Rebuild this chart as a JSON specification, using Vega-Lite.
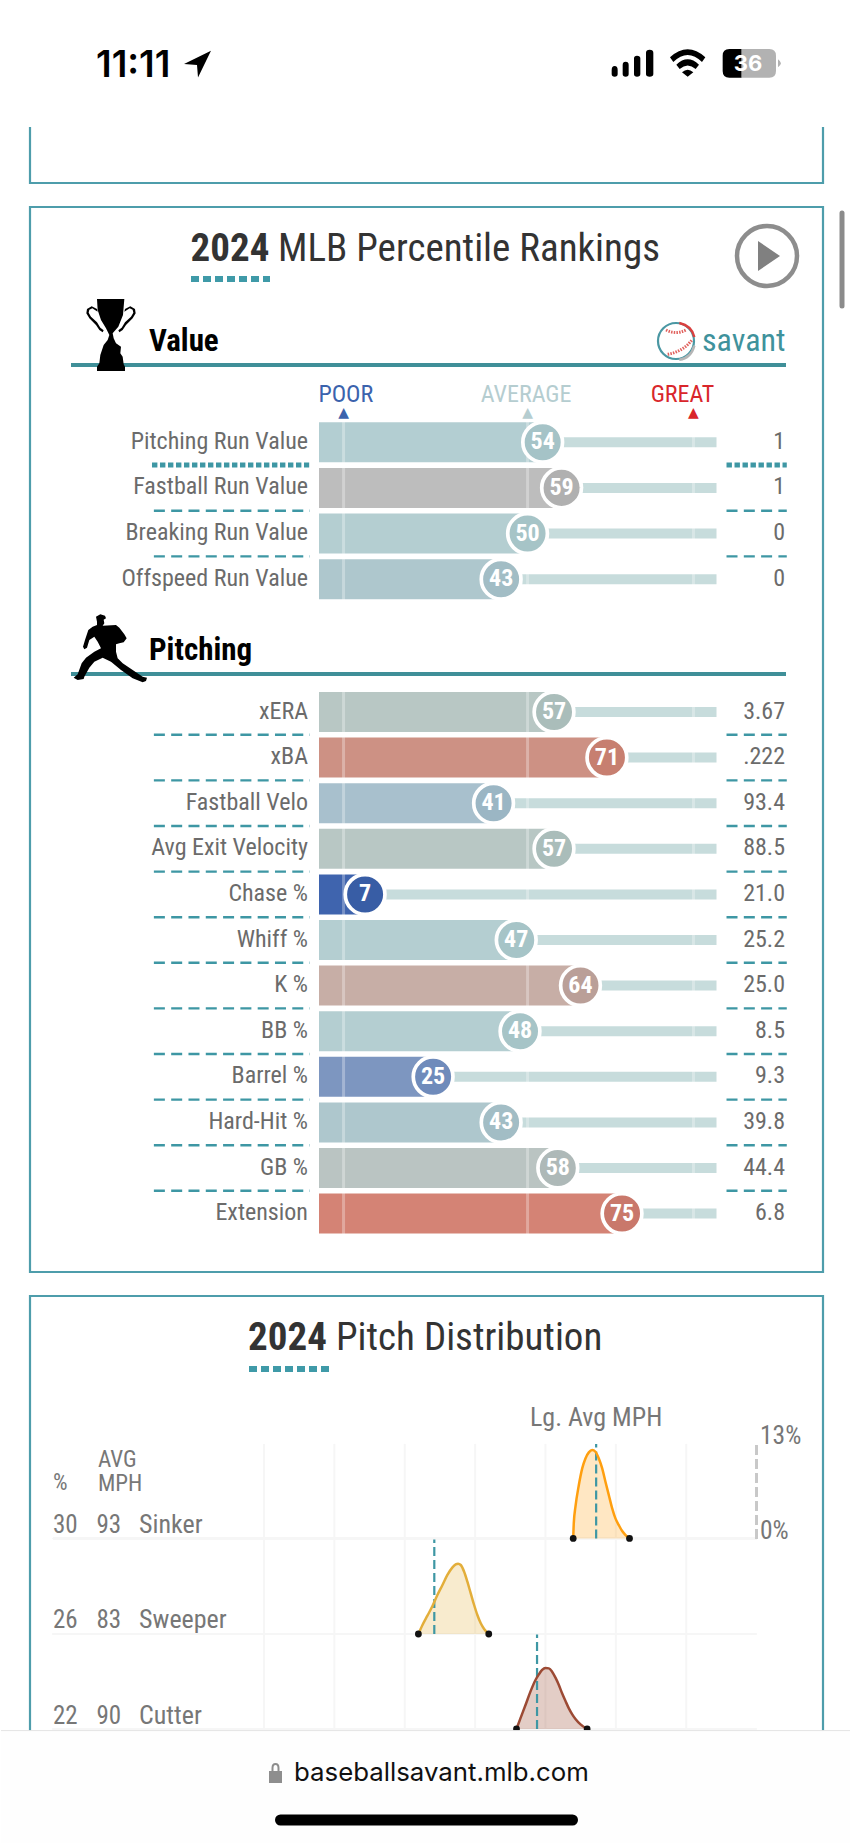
{
"$schema":"https://vega.github.io/schema/vega-lite/v6.json",
"width":850,"height":1843,"padding":0,
"autosize":{"type":"fit","contains":"padding"},
"background":"white",
"config":{"view":{"stroke":null},"axis":{"disable":true},"legend":{"disable":true},"text":{"font":"Roboto Condensed, Roboto"}},
"datasets":{
"rankings":[
{"group":"Value","metric":"Pitching Run Value","pct":54,"value":"1"},
{"group":"Value","metric":"Fastball Run Value","pct":59,"value":"1"},
{"group":"Value","metric":"Breaking Run Value","pct":50,"value":"0"},
{"group":"Value","metric":"Offspeed Run Value","pct":43,"value":"0"},
{"group":"Pitching","metric":"xERA","pct":57,"value":"3.67"},
{"group":"Pitching","metric":"xBA","pct":71,"value":".222"},
{"group":"Pitching","metric":"Fastball Velo","pct":41,"value":"93.4"},
{"group":"Pitching","metric":"Avg Exit Velocity","pct":57,"value":"88.5"},
{"group":"Pitching","metric":"Chase %","pct":7,"value":"21.0"},
{"group":"Pitching","metric":"Whiff %","pct":47,"value":"25.2"},
{"group":"Pitching","metric":"K %","pct":64,"value":"25.0"},
{"group":"Pitching","metric":"BB %","pct":48,"value":"8.5"},
{"group":"Pitching","metric":"Barrel %","pct":25,"value":"9.3"},
{"group":"Pitching","metric":"Hard-Hit %","pct":43,"value":"39.8"},
{"group":"Pitching","metric":"GB %","pct":58,"value":"44.4"},
{"group":"Pitching","metric":"Extension","pct":75,"value":"6.8"}],
"markers":[{"label":"POOR","p":1.3,"labelAt":1.9},{"label":"AVERAGE","p":50,"labelAt":49.6},{"label":"GREAT","p":93.9,"labelAt":91}],
"pitches":[{"pitch":"Sinker","share":"30","mph":"93","lgAvg":93.6},{"pitch":"Sweeper","share":"26","mph":"83","lgAvg":82.1},{"pitch":"Cutter","share":"22","mph":"90","lgAvg":89.4}],
"grid":[{"mph":70},{"mph":75},{"mph":80},{"mph":85},{"mph":90},{"mph":95},{"mph":100}],
"density":[
{"pitch":"Sinker","mph":91.97,"d":0},{"pitch":"Sinker","mph":92.01,"d":2.06},{"pitch":"Sinker","mph":92.13,"d":4.36},{"pitch":"Sinker","mph":92.37,"d":7.34},{"pitch":"Sinker","mph":92.61,"d":9.63},{"pitch":"Sinker","mph":92.84,"d":11.0},{"pitch":"Sinker","mph":93.08,"d":11.83},{"pitch":"Sinker","mph":93.32,"d":12.15},{"pitch":"Sinker","mph":93.55,"d":11.92},{"pitch":"Sinker","mph":93.79,"d":11.0},{"pitch":"Sinker","mph":94.03,"d":9.63},{"pitch":"Sinker","mph":94.26,"d":7.79},{"pitch":"Sinker","mph":94.5,"d":5.96},{"pitch":"Sinker","mph":94.74,"d":4.13},{"pitch":"Sinker","mph":94.97,"d":2.75},{"pitch":"Sinker","mph":95.21,"d":1.83},{"pitch":"Sinker","mph":95.45,"d":1.01},{"pitch":"Sinker","mph":95.69,"d":0.46},{"pitch":"Sinker","mph":95.97,"d":0},
{"pitch":"Sweeper","mph":80.97,"d":0},{"pitch":"Sweeper","mph":81.26,"d":1.24},{"pitch":"Sweeper","mph":81.61,"d":2.52},{"pitch":"Sweeper","mph":81.97,"d":3.85},{"pitch":"Sweeper","mph":82.32,"d":5.36},{"pitch":"Sweeper","mph":82.68,"d":6.74},{"pitch":"Sweeper","mph":83.03,"d":8.12},{"pitch":"Sweeper","mph":83.39,"d":9.17},{"pitch":"Sweeper","mph":83.62,"d":9.58},{"pitch":"Sweeper","mph":83.79,"d":9.67},{"pitch":"Sweeper","mph":83.98,"d":9.49},{"pitch":"Sweeper","mph":84.22,"d":8.57},{"pitch":"Sweeper","mph":84.45,"d":7.2},{"pitch":"Sweeper","mph":84.69,"d":5.59},{"pitch":"Sweeper","mph":84.93,"d":3.99},{"pitch":"Sweeper","mph":85.16,"d":2.61},{"pitch":"Sweeper","mph":85.4,"d":1.47},{"pitch":"Sweeper","mph":85.64,"d":0.69},{"pitch":"Sweeper","mph":85.97,"d":0},
{"pitch":"Cutter","mph":87.94,"d":0},{"pitch":"Cutter","mph":88.22,"d":1.47},{"pitch":"Cutter","mph":88.58,"d":3.3},{"pitch":"Cutter","mph":88.93,"d":5.14},{"pitch":"Cutter","mph":89.29,"d":6.74},{"pitch":"Cutter","mph":89.53,"d":7.52},{"pitch":"Cutter","mph":89.76,"d":8.12},{"pitch":"Cutter","mph":90.0,"d":8.39},{"pitch":"Cutter","mph":90.24,"d":8.34},{"pitch":"Cutter","mph":90.47,"d":7.89},{"pitch":"Cutter","mph":90.71,"d":7.06},{"pitch":"Cutter","mph":90.95,"d":6.05},{"pitch":"Cutter","mph":91.18,"d":4.91},{"pitch":"Cutter","mph":91.42,"d":3.85},{"pitch":"Cutter","mph":91.66,"d":2.84},{"pitch":"Cutter","mph":91.9,"d":2.02},{"pitch":"Cutter","mph":92.13,"d":1.38},{"pitch":"Cutter","mph":92.49,"d":0.64},{"pitch":"Cutter","mph":92.96,"d":0}]
},
"resolve":{"scale":{"x":"independent","y":"independent","color":"independent","fill":"independent"}},
"layer":[
{"data":{"name":"rankings"},"transform":[{"filter":"datum.group=='Value'"}],
 "encoding":{"y":{"field":"metric","type":"nominal","scale":{"type":"band","domain":["legend","Pitching Run Value","Fastball Run Value","Breaking Run Value","Offspeed Run Value"],"range":[373.7,602.05],"paddingInner":0,"paddingOuter":0}}},
 "layer":[
 {"mark":{"type":"bar","size":10,"color":"#c7dcdc"},"encoding":{"x":{"field":"pct","type":"quantitative","scale":{"domain":[-5.2,100],"range":[318,715.5],"nice":false,"zero":false}},"x2":{"datum":100}}},
 {"mark":{"type":"bar","size":40},"encoding":{"x":{"field":"pct","type":"quantitative"},"x2":{"datum":-5.2},"color":{"field":"pct","type":"quantitative","scale":{"type":"linear","domain":[7,25,41,43,47,54,57,58,59,64,71,75],"range":["#3f64ae","#7d96c0","#a8c0cd","#aec7cd","#b4ced1","#b3ced2","#b8c7c4","#bac4c2","#bdbdbd","#c7aea6","#cd9184","#d48375"]}}}},
 {"mark":{"type":"tick","color":"white","opacity":0.3,"thickness":3,"size":45.6},"encoding":{"x":{"datum":1.3}}},
 {"mark":{"type":"tick","color":"white","opacity":0.3,"thickness":3,"size":45.6},"encoding":{"x":{"datum":50}}},
 {"mark":{"type":"tick","color":"white","opacity":0.3,"thickness":3,"size":45.6},"encoding":{"x":{"datum":93.9}}},
 {"mark":{"type":"point","shape":"circle","filled":true,"opacity":1,"size":1576,"stroke":"white","strokeWidth":3.7},"encoding":{"x":{"field":"pct","type":"quantitative"},"fill":{"field":"pct","type":"quantitative","scale":{"type":"linear","domain":[7,25,41,43,47,54,57,58,59,64,71,75],"range":["#385da5","#6f8bbb","#9bb6c4","#a2bdc5","#a6c4c7","#a5c3c7","#aabdba","#aeb9b8","#b0b0b0","#ba9f98","#c77f70","#c9786b"]}}}},
 {"mark":{"type":"text","color":"white","fontWeight":"bold","fontSize":24},"encoding":{"x":{"field":"pct","type":"quantitative"},"text":{"field":"pct"}}},
 {"mark":{"type":"text","color":"#6b6b6b","fontSize":24,"align":"right","dx":-11,"dy":-0.5},"encoding":{"x":{"datum":-5.2},"text":{"field":"metric"}}},
 {"mark":{"type":"text","color":"#6b6b6b","fontSize":24,"align":"right","dx":68.5,"dy":-0.5},"encoding":{"x":{"datum":100},"text":{"field":"value"}}},
 {"transform":[{"filter":"datum.metric=='Pitching Run Value'"}],"mark":{"type":"rule","color":"#3e97a4","strokeWidth":5,"strokeDash":[5.4,2.6]},"encoding":{"y":{"field":"metric","type":"nominal","bandPosition":1},"x":{"datum":-49.4},"x2":{"datum":-7.8}}},
 {"transform":[{"filter":"datum.metric=='Pitching Run Value'"}],"mark":{"type":"rule","color":"#3e97a4","strokeWidth":5,"strokeDash":[5.4,2.6]},"encoding":{"y":{"field":"metric","type":"nominal","bandPosition":1},"x":{"datum":102.65},"x2":{"datum":118.6}}},
 {"transform":[{"filter":"datum.metric=='Fastball Run Value'||datum.metric=='Breaking Run Value'"}],"mark":{"type":"rule","color":"#3e97a4","strokeWidth":2.4,"strokeDash":[11,6.3]},"encoding":{"y":{"field":"metric","type":"nominal","bandPosition":1},"x":{"datum":-48.9},"x2":{"datum":-7.6}}},
 {"transform":[{"filter":"datum.metric=='Fastball Run Value'||datum.metric=='Breaking Run Value'"}],"mark":{"type":"rule","color":"#3e97a4","strokeWidth":2.4,"strokeDash":[11,6.3]},"encoding":{"y":{"field":"metric","type":"nominal","bandPosition":1},"x":{"datum":102.65},"x2":{"datum":118.6}}},
 {"data":{"name":"markers"},"mark":{"type":"text","fontSize":24,"dy":-2},"encoding":{"y":{"datum":"legend"},"x":{"field":"labelAt","type":"quantitative"},"text":{"field":"label"},"color":{"field":"label","type":"nominal","scale":{"domain":["POOR","AVERAGE","GREAT"],"range":["#3b63ad","#b5cdd0","#d9262b"]}}}},
 {"data":{"name":"markers"},"mark":{"type":"text","font":"DejaVu Sans","fontSize":14,"dy":16.5,"text":"▲"},"encoding":{"y":{"datum":"legend"},"x":{"field":"p","type":"quantitative"},"color":{"field":"label","type":"nominal","scale":{"domain":["POOR","AVERAGE","GREAT"],"range":["#3b63ad","#b5cdd0","#d9262b"]}}}}
 ]},
{"data":{"name":"rankings"},"transform":[{"filter":"datum.group=='Pitching'"}],
 "encoding":{"y":{"field":"metric","type":"nominal","scale":{"type":"band","domain":["xERA","xBA","Fastball Velo","Avg Exit Velocity","Chase %","Whiff %","K %","BB %","Barrel %","Hard-Hit %","GB %","Extension"],"range":[689.2,1236.4],"paddingInner":0,"paddingOuter":0}}},
 "layer":[
 {"mark":{"type":"bar","size":10,"color":"#c7dcdc"},"encoding":{"x":{"field":"pct","type":"quantitative","scale":{"domain":[-5.2,100],"range":[318,715.5],"nice":false,"zero":false}},"x2":{"datum":100}}},
 {"mark":{"type":"bar","size":40},"encoding":{"x":{"field":"pct","type":"quantitative"},"x2":{"datum":-5.2},"color":{"field":"pct","type":"quantitative","scale":{"type":"linear","domain":[7,25,41,43,47,54,57,58,59,64,71,75],"range":["#3f64ae","#7d96c0","#a8c0cd","#aec7cd","#b4ced1","#b3ced2","#b8c7c4","#bac4c2","#bdbdbd","#c7aea6","#cd9184","#d48375"]}}}},
 {"mark":{"type":"tick","color":"white","opacity":0.3,"thickness":3,"size":45.6},"encoding":{"x":{"datum":1.3}}},
 {"mark":{"type":"tick","color":"white","opacity":0.3,"thickness":3,"size":45.6},"encoding":{"x":{"datum":50}}},
 {"mark":{"type":"tick","color":"white","opacity":0.3,"thickness":3,"size":45.6},"encoding":{"x":{"datum":93.9}}},
 {"mark":{"type":"point","shape":"circle","filled":true,"opacity":1,"size":1576,"stroke":"white","strokeWidth":3.7},"encoding":{"x":{"field":"pct","type":"quantitative"},"fill":{"field":"pct","type":"quantitative","scale":{"type":"linear","domain":[7,25,41,43,47,54,57,58,59,64,71,75],"range":["#385da5","#6f8bbb","#9bb6c4","#a2bdc5","#a6c4c7","#a5c3c7","#aabdba","#aeb9b8","#b0b0b0","#ba9f98","#c77f70","#c9786b"]}}}},
 {"mark":{"type":"text","color":"white","fontWeight":"bold","fontSize":24},"encoding":{"x":{"field":"pct","type":"quantitative"},"text":{"field":"pct"}}},
 {"mark":{"type":"text","color":"#6b6b6b","fontSize":24,"align":"right","dx":-11,"dy":-0.5},"encoding":{"x":{"datum":-5.2},"text":{"field":"metric"}}},
 {"mark":{"type":"text","color":"#6b6b6b","fontSize":24,"align":"right","dx":68.5,"dy":-0.5},"encoding":{"x":{"datum":100},"text":{"field":"value"}}},
 {"transform":[{"filter":"datum.metric!='Extension'"}],"mark":{"type":"rule","color":"#3e97a4","strokeWidth":2.4,"strokeDash":[11,6.3]},"encoding":{"y":{"field":"metric","type":"nominal","bandPosition":1},"x":{"datum":-48.9},"x2":{"datum":-7.6}}},
 {"transform":[{"filter":"datum.metric!='Extension'"}],"mark":{"type":"rule","color":"#3e97a4","strokeWidth":2.4,"strokeDash":[11,6.3]},"encoding":{"y":{"field":"metric","type":"nominal","bandPosition":1},"x":{"datum":102.65},"x2":{"datum":118.6}}}
 ]},
{"data":{"name":"density"},"transform":[{"filter":"datum.pitch=='Sinker'"}],
 "layer":[
 {"data":{"name":"grid"},"mark":{"type":"rule","color":"#f6f6f6","strokeWidth":2},"encoding":{"x":{"field":"mph","type":"quantitative","scale":{"domain":[70,105],"range":[263,755.6],"nice":false,"zero":false}},"y":{"datum":0,"scale":{"domain":[0,13],"range":[1538.4,1443.9],"nice":false}},"y2":{"datum":13}}},
 {"mark":{"type":"rule","color":"#f6f6f6","strokeWidth":2},"encoding":{"x":{"datum":55},"x2":{"datum":105},"y":{"datum":0}}},
 {"mark":{"type":"rule","color":"#c8c8c8","strokeWidth":2,"strokeDash":[9,5]},"encoding":{"x":{"datum":105},"y":{"datum":0},"y2":{"datum":13}}},
 {"mark":{"type":"area","color":"#ff9f0f","opacity":0.25,"interpolate":"monotone"},"encoding":{"x":{"field":"mph","type":"quantitative"},"y":{"field":"d","type":"quantitative"}}},
 {"data":{"name":"pitches"},"transform":[{"filter":"datum.pitch=='Sinker'"}],"mark":{"type":"rule","color":"#3e97a4","strokeWidth":2.2,"strokeDash":[9,4]},"encoding":{"x":{"field":"lgAvg","type":"quantitative"},"y":{"datum":0},"y2":{"datum":13}}},
 {"mark":{"type":"line","color":"#ff9f0f","strokeWidth":2.5,"interpolate":"monotone"},"encoding":{"x":{"field":"mph","type":"quantitative"},"y":{"field":"d","type":"quantitative"}}},
 {"transform":[{"filter":"datum.d==0"}],"mark":{"type":"point","shape":"circle","filled":true,"opacity":1,"color":"#111","size":46},"encoding":{"x":{"field":"mph","type":"quantitative"},"y":{"field":"d","type":"quantitative"}}}
 ]},
{"data":{"name":"density"},"transform":[{"filter":"datum.pitch=='Sweeper'"}],
 "layer":[
 {"data":{"name":"grid"},"mark":{"type":"rule","color":"#f6f6f6","strokeWidth":2},"encoding":{"x":{"field":"mph","type":"quantitative","scale":{"domain":[70,105],"range":[263,755.6],"nice":false,"zero":false}},"y":{"datum":0,"scale":{"domain":[0,13],"range":[1634,1539.5],"nice":false}},"y2":{"datum":13}}},
 {"mark":{"type":"rule","color":"#f6f6f6","strokeWidth":2},"encoding":{"x":{"datum":55},"x2":{"datum":105},"y":{"datum":0}}},
 {"mark":{"type":"area","color":"#e3ae3a","opacity":0.25,"interpolate":"monotone"},"encoding":{"x":{"field":"mph","type":"quantitative"},"y":{"field":"d","type":"quantitative"}}},
 {"data":{"name":"pitches"},"transform":[{"filter":"datum.pitch=='Sweeper'"}],"mark":{"type":"rule","color":"#3e97a4","strokeWidth":2.2,"strokeDash":[9,4]},"encoding":{"x":{"field":"lgAvg","type":"quantitative"},"y":{"datum":0},"y2":{"datum":13}}},
 {"mark":{"type":"line","color":"#e3ae3a","strokeWidth":2.5,"interpolate":"monotone"},"encoding":{"x":{"field":"mph","type":"quantitative"},"y":{"field":"d","type":"quantitative"}}},
 {"transform":[{"filter":"datum.d==0"}],"mark":{"type":"point","shape":"circle","filled":true,"opacity":1,"color":"#111","size":46},"encoding":{"x":{"field":"mph","type":"quantitative"},"y":{"field":"d","type":"quantitative"}}}
 ]},
{"data":{"name":"density"},"transform":[{"filter":"datum.pitch=='Cutter'"}],
 "layer":[
 {"data":{"name":"grid"},"mark":{"type":"rule","color":"#f6f6f6","strokeWidth":2},"encoding":{"x":{"field":"mph","type":"quantitative","scale":{"domain":[70,105],"range":[263,755.6],"nice":false,"zero":false}},"y":{"datum":0,"scale":{"domain":[0,13],"range":[1729,1634.5],"nice":false}},"y2":{"datum":13}}},
 {"mark":{"type":"rule","color":"#f6f6f6","strokeWidth":2},"encoding":{"x":{"datum":55},"x2":{"datum":105},"y":{"datum":0}}},
 {"mark":{"type":"area","color":"#9c4a34","opacity":0.28,"interpolate":"monotone"},"encoding":{"x":{"field":"mph","type":"quantitative"},"y":{"field":"d","type":"quantitative"}}},
 {"data":{"name":"pitches"},"transform":[{"filter":"datum.pitch=='Cutter'"}],"mark":{"type":"rule","color":"#3e97a4","strokeWidth":2.2,"strokeDash":[9,4]},"encoding":{"x":{"field":"lgAvg","type":"quantitative"},"y":{"datum":0},"y2":{"datum":13}}},
 {"mark":{"type":"line","color":"#9c4a34","strokeWidth":2.5,"interpolate":"monotone"},"encoding":{"x":{"field":"mph","type":"quantitative"},"y":{"field":"d","type":"quantitative"}}},
 {"transform":[{"filter":"datum.d==0"}],"mark":{"type":"point","shape":"circle","filled":true,"opacity":1,"color":"#111","size":46},"encoding":{"x":{"field":"mph","type":"quantitative"},"y":{"field":"d","type":"quantitative"}}}
 ]},
{"data":{"name":"pitches"},
 "encoding":{"y":{"field":"pitch","type":"nominal","bandPosition":1,"scale":{"type":"band","domain":["Sinker","Sweeper","Cutter"],"range":[1443.9,1729.5],"paddingInner":0,"paddingOuter":0}}},
 "layer":[
 {"mark":{"type":"text","color":"#777","fontSize":25,"align":"left","dy":-14},"encoding":{"x":{"datum":52,"scale":{"domain":[0,850],"range":[0,850],"nice":false,"zero":false}},"text":{"field":"share"}}},
 {"mark":{"type":"text","color":"#777","fontSize":25,"align":"left","dy":-14},"encoding":{"x":{"datum":95.5},"text":{"field":"mph"}}},
 {"mark":{"type":"text","color":"#777","fontSize":26,"align":"left","dy":-14},"encoding":{"x":{"datum":138},"text":{"field":"pitch"}}}
 ]},
{"data":{"values":[{"furniture":"page"}]},
 "layer":[
 {"mark":{"type":"rect","fill":null,"stroke":"#4e9dab","strokeWidth":2.2},"encoding":{"x":{"datum":29,"scale":{"domain":[0,850],"range":[0,850],"nice":false,"zero":false}},"x2":{"datum":822},"y":{"datum":100,"scale":{"domain":[0,1843],"range":[0,1843],"nice":false,"zero":false}},"y2":{"datum":183}}},
 {"mark":{"type":"rect","fill":"white"},"encoding":{"x":{"datum":0},"x2":{"datum":850},"y":{"datum":0},"y2":{"datum":127}}},
 {"mark":{"type":"rect","fill":null,"stroke":"#4e9dab","strokeWidth":2.2},"encoding":{"x":{"datum":29},"x2":{"datum":822},"y":{"datum":207},"y2":{"datum":1272}}},
 {"mark":{"type":"rect","fill":null,"stroke":"#4e9dab","strokeWidth":2.2},"encoding":{"x":{"datum":29},"x2":{"datum":822},"y":{"datum":1296},"y2":{"datum":1790}}},
 {"mark":{"type":"rect","fill":"#fefefe"},"encoding":{"x":{"datum":0},"x2":{"datum":850},"y":{"datum":1730.6},"y2":{"datum":1843}}},
 {"mark":{"type":"rule","color":"#e4e4e4","strokeWidth":1},"encoding":{"x":{"datum":0},"x2":{"datum":850},"y":{"datum":1730.6}}},
 {"mark":{"type":"rule","color":"#8b8b8b","strokeWidth":5,"strokeCap":"round"},"encoding":{"x":{"datum":841},"y":{"datum":213},"y2":{"datum":306}}},
 {"mark":{"type":"rule","color":"#000","strokeWidth":11,"strokeCap":"round"},"encoding":{"x":{"datum":279.5},"x2":{"datum":571.5},"y":{"datum":1820}}},
 {"mark":{"type":"text","font":"Inter","fontWeight":600,"fontSize":37,"color":"#000","align":"left","baseline":"alphabetic","text":"11:11"},"encoding":{"x":{"datum":95},"y":{"datum":76.7}}},
 {"mark":{"type":"point","filled":true,"opacity":1,"color":"#000","size":4,"shape":"M27 0.7L0 14L13 15L14 27.5Z"},"encoding":{"x":{"datum":183},"y":{"datum":50}}},
 {"mark":{"type":"point","filled":true,"opacity":1,"color":"#000","size":0.4444,"shape":"M32 90Q32 78 41 78Q50 78 50 90L50 102Q50 110 41 110Q32 110 32 102ZM65 75Q65 65 74 65Q83 65 83 75L83 102Q83 110 74 110Q65 110 65 102ZM99 55Q99 47 108 47Q118 47 118 55L118 102Q118 110 108 110Q99 110 99 102ZM135 38Q135 29 146 29Q157 29 157 38L157 102Q157 110 146 110Q135 110 135 102ZM207 52Q260 4 313 52L303 66Q260 24 217 66ZM226 74Q260 42 294 74L284 87Q260 66 236 87ZM243 97Q260 81 277 97L260 110ZM385 27L422 27L422 113L385 113Q365 113 365 93L365 47Q365 27 385 27Z"},"encoding":{"x":{"datum":600},"y":{"datum":40}}},
 {"mark":{"type":"point","filled":true,"opacity":1,"color":"#b2b2b2","size":0.4444,"shape":"M422 27L505 27Q525 27 525 47L525 93Q525 113 505 113L422 113ZM531 58Q540 65 540 70Q540 75 531 82Z"},"encoding":{"x":{"datum":600},"y":{"datum":40}}},
 {"mark":{"type":"text","font":"Inter","fontWeight":700,"fontSize":22,"color":"white","text":"36"},"encoding":{"x":{"datum":747},"y":{"datum":63.5}}},
 {"mark":{"type":"text","fontWeight":"bold","fontSize":39,"color":"#333","align":"left","baseline":"alphabetic","text":"2024"},"encoding":{"x":{"datum":189.5},"y":{"datum":261}}},
 {"mark":{"type":"text","fontSize":39,"color":"#333","align":"left","baseline":"alphabetic","text":"MLB Percentile Rankings"},"encoding":{"x":{"datum":277},"y":{"datum":261}}},
 {"mark":{"type":"rule","color":"#3f9aa8","strokeWidth":6,"strokeDash":[8,4]},"encoding":{"x":{"datum":190},"x2":{"datum":269},"y":{"datum":279}}},
 {"mark":{"type":"point","shape":"circle","filled":false,"opacity":1,"stroke":"#8d8d8d","strokeWidth":4.5,"size":3600},"encoding":{"x":{"datum":766},"y":{"datum":256}}},
 {"mark":{"type":"point","filled":true,"opacity":1,"color":"#808080","size":4,"shape":"M0 0L22 15L0 30Z"},"encoding":{"x":{"datum":757},"y":{"datum":241}}},
 {"mark":{"type":"rule","color":"#3f8f98","strokeWidth":4},"encoding":{"x":{"datum":70},"x2":{"datum":785},"y":{"datum":365}}},
 {"mark":{"type":"rule","color":"#3f8f98","strokeWidth":4},"encoding":{"x":{"datum":70},"x2":{"datum":785},"y":{"datum":674}}},
 {"mark":{"type":"text","fontWeight":"bold","fontSize":31,"color":"#000","align":"left","baseline":"alphabetic","text":"Value"},"encoding":{"x":{"datum":148},"y":{"datum":350.5}}},
 {"mark":{"type":"text","fontWeight":"bold","fontSize":31,"color":"#000","align":"left","baseline":"alphabetic","text":"Pitching"},"encoding":{"x":{"datum":148},"y":{"datum":660}}},
 {"mark":{"type":"text","fontSize":32,"color":"#3f929c","align":"left","baseline":"alphabetic","text":"savant"},"encoding":{"x":{"datum":701},"y":{"datum":351}}},
 {"mark":{"type":"point","shape":"circle","filled":false,"opacity":1,"stroke":"#4a97a3","strokeWidth":2.2,"size":1296},"encoding":{"x":{"datum":675},"y":{"datum":341}}},
 {"mark":{"type":"point","filled":false,"opacity":1,"stroke":"#d9403f","strokeWidth":2.5,"size":0.4444,"shape":"M85 24Q122 32 130 66"},"encoding":{"x":{"datum":650},"y":{"datum":315}}},
 {"mark":{"type":"point","filled":false,"opacity":1,"stroke":"#b5b5b5","strokeWidth":2.5,"size":0.4444,"shape":"M130 92Q120 130 85 134"},"encoding":{"x":{"datum":650},"y":{"datum":315}}},
 {"mark":{"type":"point","filled":false,"opacity":1,"stroke":"#e0605c","strokeWidth":3,"strokeDash":[1.5,1.2],"size":0.4444,"shape":"M45 45Q75 60 105 45M50 118Q95 110 122 76"},"encoding":{"x":{"datum":650},"y":{"datum":315}}},
 {"mark":{"type":"point","filled":true,"opacity":1,"color":"#000","size":0.4444,"shape":"M108 42L190 42L186 90L172 125L155 145L158 160L165 175L180 185L178 205L185 215L188 238L192 245L192 258L108 258L108 245L115 235L118 210L128 180L140 165L145 150L135 130L120 105L110 75ZM108 72L92 64L78 72L76 85L85 100L105 120L115 135L125 142L128 136L118 128L108 112L90 95L83 83L85 74L94 70L110 80ZM192 72L208 64L222 72L224 85L215 100L195 120L185 135L175 142L172 136L182 128L192 112L210 95L217 83L215 74L206 70L190 80Z"},"encoding":{"x":{"datum":60},"y":{"datum":285}}},
 {"mark":{"type":"point","filled":true,"opacity":1,"color":"#000","size":0.4444,"shape":"M105 35L118 28L132 32L135 40L128 44L130 55L125 62L165 60L175 68L190 88L197 100L188 112L175 115L165 118L165 140L170 160L185 175L215 195L245 215L258 218L255 228L245 232L215 220L180 195L150 170L125 158L100 170L85 188L70 215L68 222L50 225L38 218L50 208L62 175L75 158L100 140L120 130L110 110L100 95L85 105L78 128L70 133L66 125L72 105L82 75L95 65L108 60L108 50Z"},"encoding":{"x":{"datum":60},"y":{"datum":605}}},
 {"mark":{"type":"text","fontWeight":"bold","fontSize":39,"color":"#333","align":"left","baseline":"alphabetic","text":"2024"},"encoding":{"x":{"datum":247},"y":{"datum":1350}}},
 {"mark":{"type":"text","fontSize":39,"color":"#333","align":"left","baseline":"alphabetic","text":"Pitch Distribution"},"encoding":{"x":{"datum":335},"y":{"datum":1350}}},
 {"mark":{"type":"rule","color":"#3f9aa8","strokeWidth":6,"strokeDash":[8,4]},"encoding":{"x":{"datum":248},"x2":{"datum":328},"y":{"datum":1369}}},
 {"mark":{"type":"text","fontSize":26,"color":"#777","align":"left","text":"Lg. Avg MPH"},"encoding":{"x":{"datum":529},"y":{"datum":1418}}},
 {"mark":{"type":"text","fontSize":25.5,"color":"#777","align":"left","text":"13%"},"encoding":{"x":{"datum":759},"y":{"datum":1436}}},
 {"mark":{"type":"text","fontSize":25.5,"color":"#777","align":"left","text":"0%"},"encoding":{"x":{"datum":759},"y":{"datum":1531}}},
 {"mark":{"type":"text","fontSize":23,"color":"#777","align":"left","text":"%"},"encoding":{"x":{"datum":52},"y":{"datum":1483}}},
 {"mark":{"type":"text","fontSize":23,"color":"#777","align":"left","text":"AVG"},"encoding":{"x":{"datum":97},"y":{"datum":1460}}},
 {"mark":{"type":"text","fontSize":23,"color":"#777","align":"left","text":"MPH"},"encoding":{"x":{"datum":97},"y":{"datum":1484}}},
 {"mark":{"type":"point","filled":true,"opacity":1,"color":"#8e8e8e","size":4,"shape":"M0 8L13 8L13 20L0 20ZM2.5 8L2.5 5Q2.5 0 6.5 0Q10.5 0 10.5 5L10.5 8L8.5 8L8.5 5Q8.5 2 6.5 2Q4.5 2 4.5 5L4.5 8Z"},"encoding":{"x":{"datum":268},"y":{"datum":1763}}},
 {"mark":{"type":"text","font":"Inter","fontSize":25.8,"color":"#111","align":"left","baseline":"alphabetic","text":"baseballsavant.mlb.com"},"encoding":{"x":{"datum":293},"y":{"datum":1781}}}
 ]}
]}
